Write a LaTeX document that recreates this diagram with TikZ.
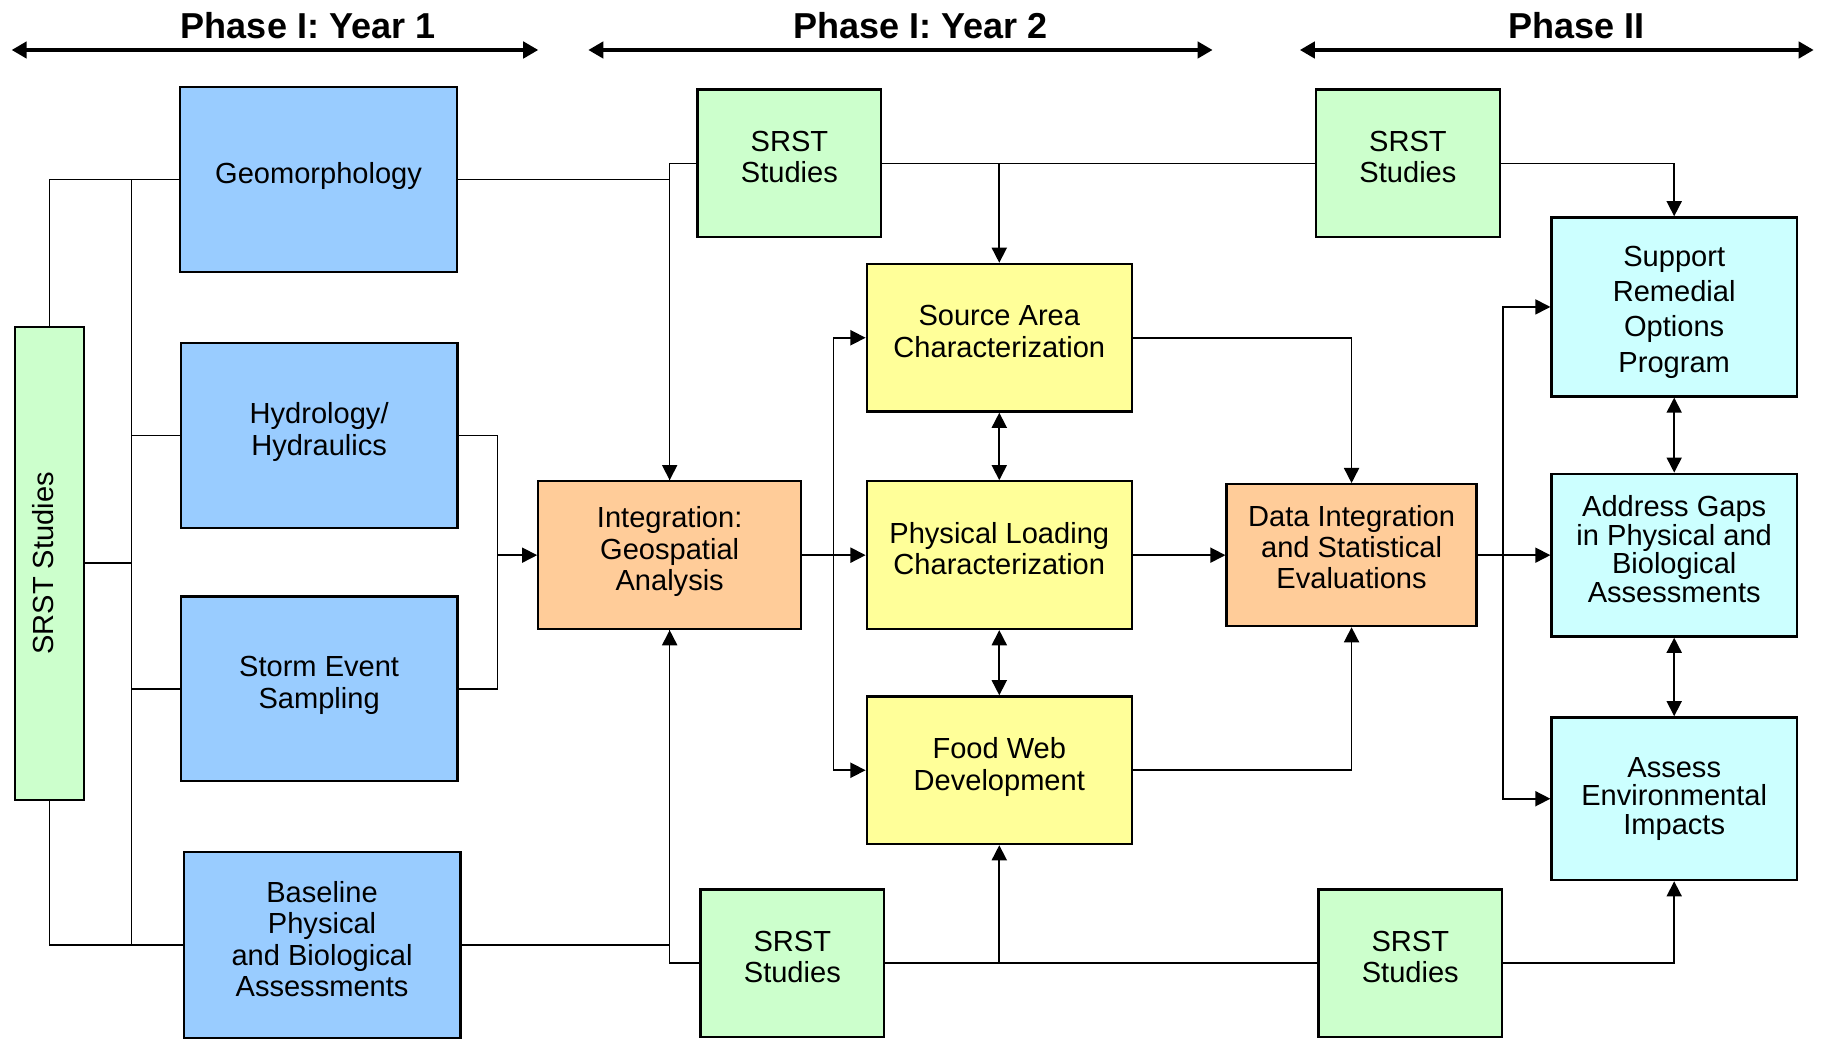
\documentclass[tikz,border=0pt]{standalone}
\usepackage{fontspec}
\setmainfont{Liberation Sans}
\usetikzlibrary{arrows.meta}

\definecolor{studyblue}{HTML}{99CCFF}
\definecolor{srstgreen}{HTML}{CCFFCC}
\definecolor{intorange}{HTML}{FFCC99}
\definecolor{charyellow}{HTML}{FFFF99}
\definecolor{outcyan}{HTML}{CCFFFF}

\begin{document}
\begin{tikzpicture}[x=0.5pt,y=-0.5pt,
  lift/.style={execute at end node={\rule[-#1]{0pt}{0pt}}},
  box/.style={draw,line width=1pt,inner sep=0pt,align=center,
    font=\fontsize{12.5}{13.5}\selectfont},
  studybox/.style={box,lift=5.5pt,fill=studyblue,minimum width=119pt,minimum height=79.5pt},
  srstbox/.style={box,lift=5.5pt,fill=srstgreen,minimum width=79pt,minimum height=63.5pt},
  intbox/.style={box,lift=5.5pt,fill=intorange},
  charbox/.style={box,lift=5.5pt,fill=charyellow,minimum width=114pt,minimum height=63.5pt},
  outbox/.style={box,fill=outcyan,minimum width=105.5pt},
  wire/.style={line width=0.7pt},
  phasearrow/.style={line width=2pt,
    {Triangle[length=6.5pt,width=7pt]}-{Triangle[length=6.5pt,width=7pt]}},
  phasetitle/.style={font=\fontsize{15.5}{18}\selectfont\bfseries},
  >={Triangle[length=6.5pt,width=6.5pt]}]

\useasboundingbox (0,0) rectangle (1568,894);

\node[phasetitle] (ph1) at (265,22) {Phase I: Year 1};
\node[phasetitle] (ph2) at (792,22) {Phase I: Year 2};
\node[phasetitle] (ph3) at (1356,22) {Phase II};
\draw[phasearrow] (10,43) -- (463,43);
\draw[phasearrow] (506,43) -- (1043,43);
\draw[phasearrow] (1118,43) -- (1560,43);

\node[box,lift=5.5pt,fill=srstgreen,rotate=90,minimum width=203.5pt,minimum height=29.5pt]
  (srstL) at (42.5,484.5) {SRST Studies};

\node[studybox] (geo) at (274,154.5) {Geomorphology};
\node[studybox] (hyd) at (274.5,374.5) {Hydrology/\\Hydraulics};
\node[studybox] (storm) at (274.5,592.5) {Storm Event\\Sampling};
\node[studybox,minimum height=80pt] (base) at (277,813)
  {Baseline\\Physical\\and Biological\\Assessments};

\node[intbox,minimum width=113pt,minimum height=63.5pt] (integ) at (576,477.5)
  {Integration:\\Geospatial\\Analysis};

\node[srstbox] (srst1) at (679,140.5) {SRST\\Studies};
\node[srstbox] (srst2) at (1211,140.5) {SRST\\Studies};
\node[srstbox] (srst3) at (681.5,828.5) {SRST\\Studies};
\node[srstbox] (srst4) at (1213,828.5) {SRST\\Studies};

\node[charbox] (src) at (859.5,290.5) {Source Area\\Characterization};
\node[charbox] (phys) at (859.5,477.5) {Physical Loading\\Characterization};
\node[charbox] (food) at (859.5,662.5) {Food Web\\Development};

\node[intbox,lift=7pt,minimum width=107.5pt,minimum height=61pt] (data) at (1162.5,477.5)
  {Data Integration\\and Statistical\\Evaluations};

\node[outbox,minimum height=77pt,font=\fontsize{12.5}{15.2}\selectfont] (supp) at (1440,264)
  {\rule{0pt}{13pt}Support\\Remedial\\Options\\Program};
\node[outbox,lift=5.5pt,minimum height=70pt,font=\fontsize{12.5}{12.3}\selectfont] (gaps)
  at (1440,477.5) {Address Gaps\\in Physical and\\Biological\\Assessments};
\node[outbox,minimum height=70pt,font=\fontsize{12.5}{12.3}\selectfont] (assess) at (1440,687)
  {Assess\\Environmental\\Impacts};

\coordinate (busT) at (113,154.5);
\coordinate (busB) at (113,813);
\coordinate (hsj) at (428,477.5);
\coordinate (ij) at (717,477.5);
\coordinate (dj) at (1293,477.5);

\draw[wire] (busT) -- (busB);
\draw[wire] (srstL.east) |- (geo.west);
\draw[wire] (srstL.west) |- (base.west);
\draw[wire] (srstL.south) -- (srstL.south -| busT);
\draw[wire] (hyd.west) -- (hyd.west -| busT);
\draw[wire] (storm.west) -- (storm.west -| busT);

\draw[wire] (hyd.east) -| (hsj) |- (storm.east);
\draw[wire,->] (hsj) -- (integ.west);

\draw[wire] (geo.east) -| (integ.north);
\draw[wire,->] (srst1.west) -| (integ.north);
\draw[wire] (base.east) -| (integ.south);
\draw[wire,->] (srst3.west) -| (integ.south);

\draw[wire,->] (integ.east) -- (phys.west);
\draw[wire,->] (ij) |- (src.west);
\draw[wire,->] (ij) |- (food.west);

\draw[wire] (srst1.east) -- (srst2.west);
\draw[wire,->] (srst1.east -| src.north) -- (src.north);
\draw[wire] (srst3.east) -- (srst4.west);
\draw[wire,->] (srst3.east -| food.south) -- (food.south);

\draw[wire,<->] (src.south) -- (phys.north);
\draw[wire,<->] (phys.south) -- (food.north);

\draw[wire,->] (src.east) -| (data.north);
\draw[wire,->] (phys.east) -- (data.west);
\draw[wire,->] (food.east) -| (data.south);

\draw[wire,->] (srst2.east) -| (supp.north);
\draw[wire,->] (srst4.east) -| (assess.south);

\draw[wire,->] (data.east) -- (gaps.west);
\draw[wire,->] (dj) |- (supp.west);
\draw[wire,->] (dj) |- (assess.west);

\draw[wire,<->] (supp.south) -- (gaps.north);
\draw[wire,<->] (gaps.south) -- (assess.north);

\end{tikzpicture}
\end{document}
